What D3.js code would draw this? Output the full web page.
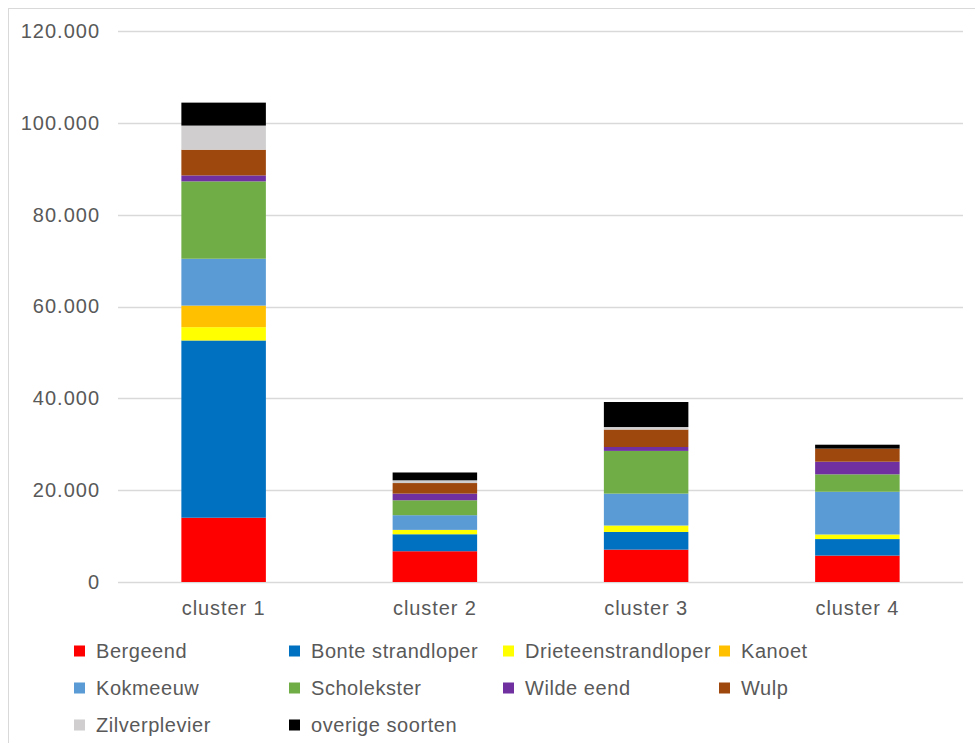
<!DOCTYPE html>
<html>
<head>
<meta charset="utf-8">
<script src="https://cdn.jsdelivr.net/npm/d3@7"></script>
<style>
  html, body { margin: 0; padding: 0; background: #fff; }
  svg { display: block; font-family: "Liberation Sans", Arial, sans-serif; }
</style>
</head>
<body>
<svg id="chart" width="975" height="743"></svg>
<script>
const categories = ["cluster 1", "cluster 2", "cluster 3", "cluster 4"];
const seriesNames = ["Bergeend", "Bonte strandloper", "Drieteenstrandloper", "Kanoet",
  "Kokmeeuw", "Scholekster", "Wilde eend", "Wulp", "Zilverplevier", "overige soorten"];
const seriesColors = ["#FF0000", "#0070C0", "#FFFF00", "#FFC000", "#5B9BD5",
  "#70AD47", "#7030A0", "#9E480E", "#D0CECE", "#000000"];
const Bergeend = [14000, 6700, 7050, 5750];
const BonteStrandloper = [38600, 3700, 3850, 3600];
const Drieteenstrandloper = [2900, 950, 1400, 1000];
const Kanoet = [4700, 0, 0, 0];
const Kokmeeuw = [10200, 3200, 6950, 9300];
const Scholekster = [16850, 3250, 9300, 3800];
const WildeEend = [1300, 1450, 850, 2750];
const Wulp = [5600, 2300, 3800, 2850];
const Zilverplevier = [5250, 600, 550, 0];
const OverigeSoorten = [5000, 1700, 5450, 850];
const yTicks = [0, 20000, 40000, 60000, 80000, 100000, 120000];

const seriesValues = [Bergeend, BonteStrandloper, Drieteenstrandloper, Kanoet, Kokmeeuw,
  Scholekster, WildeEend, Wulp, Zilverplevier, OverigeSoorten];

const table = categories.map((c, i) => {
  const row = { category: c };
  seriesNames.forEach((s, j) => row[s] = seriesValues[j][i]);
  return row;
});

const svg = d3.select("#chart");
const plotLeft = 118, plotRight = 963, plotTop = 31, plotBottom = 582;

// chart border
svg.append("rect").attr("x", 8.5).attr("y", 8.5).attr("width", 1200).attr("height", 1200)
  .attr("fill", "none").attr("stroke", "#d9d9d9").attr("stroke-width", 1);

const x = d3.scaleBand().domain(categories).range([plotLeft, plotRight])
  .paddingInner(0.6).paddingOuter(0.3);
const y = d3.scaleLinear().domain([0, 120000]).range([plotBottom, plotTop]);

const fmt = v => v === 0 ? "0" : d3.format(",")(v).replace(/,/g, ".");

// gridlines
svg.append("g").selectAll("line").data(yTicks).join("line")
  .attr("x1", plotLeft).attr("x2", plotRight)
  .attr("y1", d => Math.round(y(d)) + 0.5).attr("y2", d => Math.round(y(d)) + 0.5)
  .attr("stroke", "#d9d9d9").attr("stroke-width", 1.3);

// y axis labels
const yAxis = d3.axisLeft(y).tickValues(yTicks).tickFormat(fmt).tickSize(0).tickPadding(0);
const gy = svg.append("g").attr("transform", `translate(${plotLeft - 18},0)`).call(yAxis);
gy.select(".domain").remove();
gy.selectAll("text").attr("font-size", 20).attr("fill", "#595959")
  .attr("letter-spacing", 1)
  .attr("font-family", "Liberation Sans, Arial, sans-serif");

// stacked bars
const stack = d3.stack().keys(seriesNames);
const stacked = stack(table);
svg.append("g").selectAll("g").data(stacked).join("g")
  .attr("fill", (d, i) => seriesColors[i])
  .selectAll("rect").data(d => d).join("rect")
  .attr("x", d => x(d.data.category))
  .attr("width", x.bandwidth())
  .attr("y", d => y(d[1]))
  .attr("height", d => Math.max(0, y(d[0]) - y(d[1])));

// x axis labels
const xAxis = d3.axisBottom(x).tickSize(0).tickPadding(0);
const gx = svg.append("g").attr("transform", `translate(0,${plotBottom + 19})`).call(xAxis);
gx.select(".domain").remove();
gx.selectAll("text").attr("font-size", 20).attr("fill", "#595959")
  .attr("letter-spacing", 0.9)
  .attr("font-family", "Liberation Sans, Arial, sans-serif");

// legend
const colX = [74, 289, 503, 719];
const rowY = [651, 688, 725];
const legend = svg.append("g").selectAll("g").data(seriesNames).join("g")
  .attr("transform", (d, i) => `translate(${colX[i % 4]},${rowY[Math.floor(i / 4)]})`);
legend.append("rect").attr("x", 0).attr("y", -5.5).attr("width", 11).attr("height", 11)
  .attr("fill", (d, i) => seriesColors[i]);
legend.append("text").attr("x", 22).attr("y", 7.3).text(d => d)
  .attr("font-size", 20).attr("fill", "#595959").attr("letter-spacing", 0.55);
</script>
</body>
</html>
